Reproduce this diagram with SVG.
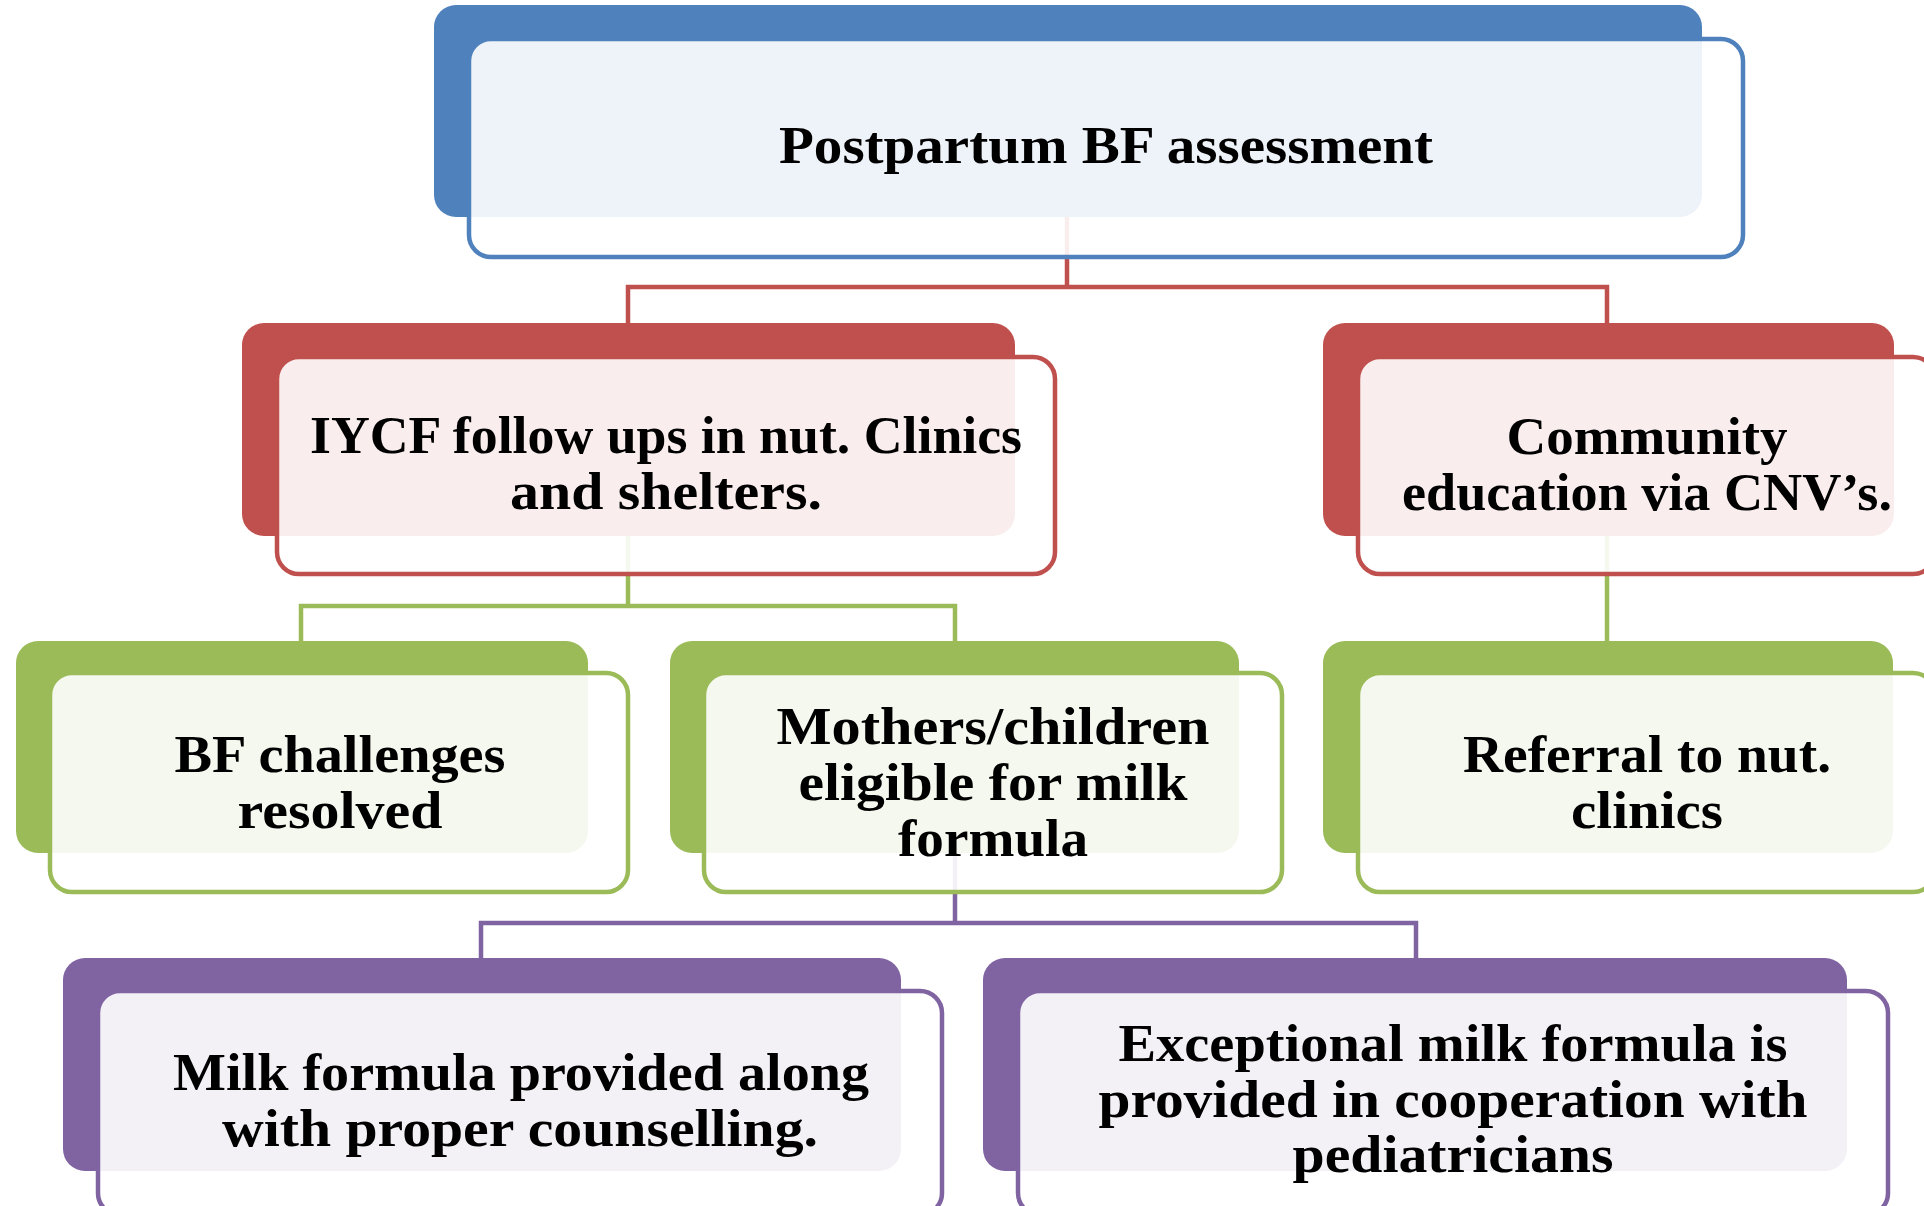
<svg xmlns="http://www.w3.org/2000/svg" width="1924" height="1206" viewBox="0 0 1924 1206">
<style>
.t{font-family:"Liberation Serif","Times New Roman",serif;font-weight:bold;font-size:52px;fill:#000;text-anchor:middle}
.fr{fill:#fff;fill-opacity:0.9;stroke-width:4.5}
.c{fill:none;stroke-width:4.5}
.blue .bk{fill:#4F81BD}.blue .fr{stroke:#4F81BD}
.red .bk{fill:#C0504D}.red .fr{stroke:#C0504D}
.green .bk{fill:#9BBB59}.green .fr{stroke:#9BBB59}
.purple .bk{fill:#8064A2}.purple .fr{stroke:#8064A2}
</style>
<rect width="1924" height="1206" fill="#fff"/>
<g id="connectors">
<path class="c" stroke="#C0504D" d="M1067 217V287M628 323V287H1607V323"/>
<path class="c" stroke="#9BBB59" d="M628 536V606M301 641V606H955V641M1607 536V641"/>
<path class="c" stroke="#8064A2" d="M955 853V923M481 958V923H1416V958"/>
</g>
<g id="n-top" class="blue">
<rect class="bk" x="434" y="5" width="1268" height="212" rx="22"/>
<rect class="fr" x="469" y="39" width="1274" height="218" rx="22"/>
<text class="t" x="1106" y="163" textLength="654" lengthAdjust="spacingAndGlyphs">Postpartum BF assessment</text>
</g>
<g id="n-iycf" class="red">
<rect class="bk" x="242" y="323" width="773" height="213" rx="22"/>
<rect class="fr" x="277" y="357" width="778" height="217" rx="22"/>
<text class="t" x="666" y="453" textLength="712" lengthAdjust="spacingAndGlyphs">IYCF follow ups in nut. Clinics</text>
<text class="t" x="666" y="509" textLength="312" lengthAdjust="spacingAndGlyphs">and shelters.</text>
</g>
<g id="n-community" class="red">
<rect class="bk" x="1323" y="323" width="571" height="213" rx="22"/>
<rect class="fr" x="1358" y="357" width="577" height="217" rx="22"/>
<text class="t" x="1647" y="454" textLength="281" lengthAdjust="spacingAndGlyphs">Community</text>
<text class="t" x="1647" y="510" textLength="490" lengthAdjust="spacingAndGlyphs">education via CNV’s.</text>
</g>
<g id="n-bf" class="green">
<rect class="bk" x="16" y="641" width="572" height="212" rx="22"/>
<rect class="fr" x="50" y="673" width="578" height="219" rx="22"/>
<text class="t" x="340" y="772" textLength="331" lengthAdjust="spacingAndGlyphs">BF challenges</text>
<text class="t" x="340" y="828" textLength="205" lengthAdjust="spacingAndGlyphs">resolved</text>
</g>
<g id="n-mothers" class="green">
<rect class="bk" x="670" y="641" width="569" height="212" rx="22"/>
<rect class="fr" x="704" y="673" width="578" height="219" rx="22"/>
<text class="t" x="993" y="744" textLength="433" lengthAdjust="spacingAndGlyphs">Mothers/children</text>
<text class="t" x="993" y="800" textLength="389" lengthAdjust="spacingAndGlyphs">eligible for milk</text>
<text class="t" x="993" y="856" textLength="190" lengthAdjust="spacingAndGlyphs">formula</text>
</g>
<g id="n-referral" class="green">
<rect class="bk" x="1323" y="641" width="570" height="212" rx="22"/>
<rect class="fr" x="1358" y="673" width="577" height="219" rx="22"/>
<text class="t" x="1647" y="772" textLength="368" lengthAdjust="spacingAndGlyphs">Referral to nut.</text>
<text class="t" x="1647" y="828" textLength="152" lengthAdjust="spacingAndGlyphs">clinics</text>
</g>
<g id="n-milk" class="purple">
<rect class="bk" x="63" y="958" width="838" height="213" rx="22"/>
<rect class="fr" x="98" y="991" width="844" height="224" rx="22"/>
<text class="t" x="521" y="1090" textLength="696" lengthAdjust="spacingAndGlyphs">Milk formula provided along</text>
<text class="t" x="520" y="1146" textLength="596" lengthAdjust="spacingAndGlyphs">with proper counselling.</text>
</g>
<g id="n-exceptional" class="purple">
<rect class="bk" x="983" y="958" width="864" height="213" rx="22"/>
<rect class="fr" x="1018" y="991" width="870" height="224" rx="22"/>
<text class="t" x="1453" y="1061" textLength="669" lengthAdjust="spacingAndGlyphs">Exceptional milk formula is</text>
<text class="t" x="1453" y="1117" textLength="709" lengthAdjust="spacingAndGlyphs">provided in cooperation with</text>
<text class="t" x="1453" y="1172" textLength="321" lengthAdjust="spacingAndGlyphs">pediatricians</text>
</g>
</svg>
